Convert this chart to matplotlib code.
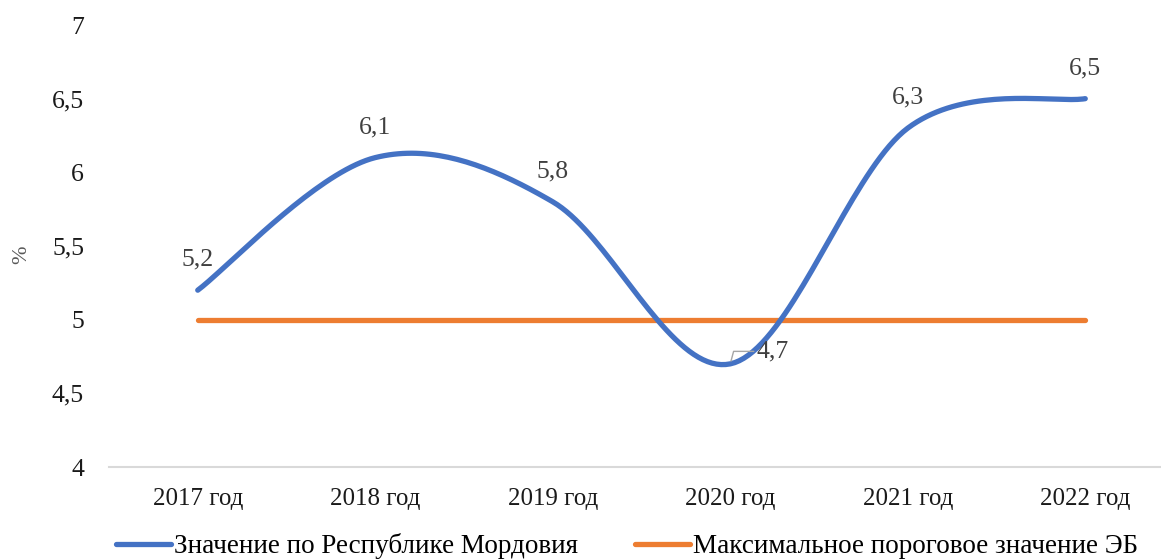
import matplotlib
matplotlib.use("Agg")
import matplotlib.pyplot as plt
import numpy as np

plt.rcParams["font.family"] = ["Liberation Serif", "DejaVu Serif"]

years = ["2017 год", "2018 год", "2019 год", "2020 год", "2021 год", "2022 год"]
mordovia = [5.2, 6.1, 5.8, 4.7, 6.3, 6.5]
threshold = [5, 5, 5, 5, 5, 5]
value_labels = ["5,2", "6,1", "5,8", "4,7", "6,3", "6,5"]
yticks = [4, 4.5, 5, 5.5, 6, 6.5, 7]
ytick_labels = ["4", "4,5", "5", "5,5", "6", "6,5", "7"]

BLUE = "#4472C4"
ORANGE = "#ED7D31"


def smooth_path(x, y, n=40):
    # Excel-like smoothed line: cubic Bezier with Catmull-Rom control points
    x = np.asarray(x, float)
    y = np.asarray(y, float)
    px = np.concatenate([[x[0]], x, [x[-1]]])
    py = np.concatenate([[y[0]], y, [y[-1]]])
    t = np.linspace(0, 1, n)[:, None]
    xs, ys = [], []
    for i in range(1, len(x)):
        p0 = np.array([px[i - 1], py[i - 1]])
        p1 = np.array([px[i], py[i]])
        p2 = np.array([px[i + 1], py[i + 1]])
        p3 = np.array([px[i + 2], py[i + 2]])
        c1 = p1 + (p2 - p0) / 6
        c2 = p2 - (p3 - p1) / 6
        b = ((1 - t) ** 3) * p1 + 3 * ((1 - t) ** 2) * t * c1 \
            + 3 * (1 - t) * t ** 2 * c2 + t ** 3 * p2
        xs.append(b[:, 0])
        ys.append(b[:, 1])
    return np.concatenate(xs), np.concatenate(ys)


W, H = 1161, 560
fig = plt.figure(figsize=(W / 100, H / 100), dpi=100)
ax = fig.add_axes([109 / W, 93 / H, (1174 - 109) / W, 442 / H])

xpos = np.arange(len(years))
sx, sy = smooth_path(xpos, mordovia)
ax.plot(xpos, threshold, color=ORANGE, lw=3.8, solid_capstyle="round",
        label="Максимальное пороговое значение ЭБ", zorder=2)
ax.plot(sx, sy, color=BLUE, lw=3.8, solid_capstyle="round",
        label="Значение по Республике Мордовия", zorder=3)

for i, (v, lab) in enumerate(zip(mordovia, value_labels)):
    if i == 3:
        ax.annotate(lab, xy=(i, v), xytext=(19, 9), textcoords="offset points",
                    ha="left", va="center", fontsize=18.5, color="#404040",
                    arrowprops=dict(arrowstyle="-", color="#a6a6a6", lw=1,
                                    shrinkA=0, shrinkB=2,
                                    connectionstyle="angle,angleA=0,angleB=75,rad=0"))
    else:
        ax.annotate(lab, xy=(i, v), xytext=(0, 22), textcoords="offset points",
                    ha="center", va="center", fontsize=18.5, color="#404040")

ax.set_xlim(-0.5, len(years) - 0.5)
ax.set_ylim(4, 7)
ax.set_xticks(xpos)
ax.set_xticklabels(years, fontsize=18, color="#1a1a1a")
ax.set_yticks(yticks)
ax.set_yticklabels(ytick_labels, fontsize=18.5, color="#1a1a1a")
ax.tick_params(axis="both", length=0)
ax.tick_params(axis="x", pad=15)
ax.tick_params(axis="y", pad=18)
for s in ["top", "right", "left"]:
    ax.spines[s].set_visible(False)
ax.spines["bottom"].set_color("#d9d9d9")
ax.spines["bottom"].set_linewidth(1.5)

fig.text(22 / W, 1 - 255 / H, "%", rotation=90, ha="center", va="center",
         fontsize=16, color="#595959")

h, l = ax.get_legend_handles_labels()
fig.legend(h[::-1], l[::-1], loc="center", ncol=2,
           bbox_to_anchor=(627 / W, 1 - 546 / H), frameon=False,
           fontsize=19.5, handlelength=2.03, handletextpad=0.1,
           columnspacing=2.1, borderpad=0)

fig.savefig("out.png", dpi=100)
